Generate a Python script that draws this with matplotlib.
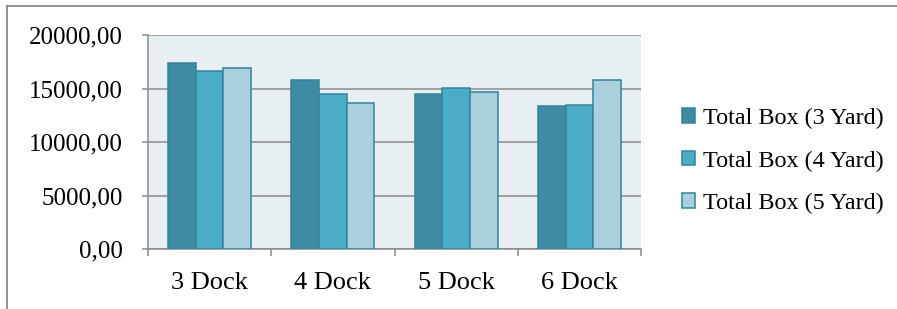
import matplotlib
matplotlib.use("Agg")
import matplotlib.pyplot as plt
import numpy as np
from matplotlib.lines import Line2D
from matplotlib.patches import Patch
from matplotlib.ticker import FuncFormatter, FixedLocator

categories = ["3 Dock", "4 Dock", "5 Dock", "6 Dock"]
series_names = ["Total Box (3 Yard)", "Total Box (4 Yard)", "Total Box (5 Yard)"]
yard3 = [17400, 15830, 14520, 13340]
yard4 = [16640, 14520, 15080, 13470]
yard5 = [16950, 13680, 14650, 15830]
yticks = [0, 5000, 10000, 15000, 20000]

colors = ["#3d8ca3", "#4bacc6", "#aacfdd"]
edge = "#31849b"
grid_c = "#8a8a8a"

plt.rcParams["font.family"] = ["Liberation Serif", "DejaVu Serif"]
plt.rcParams["font.size"] = 17

W, H = 897, 309
fig = plt.figure(figsize=(W / 100, H / 100), dpi=100)
ax = fig.add_axes([148 / W, 1 - 249.3 / H, (641 - 148) / W, (249.3 - 35) / H])
ax.set_facecolor("#e8eff3")

x = np.arange(len(categories))
bw = 0.225
for i, (vals, c, name) in enumerate(zip([yard3, yard4, yard5], colors, series_names)):
    ax.bar(x + (i - 1) * bw, vals, width=bw, color=c, edgecolor=edge, linewidth=1.1,
           label=name, zorder=3)

ax.set_xlim(-0.5, len(categories) - 0.5)
ax.set_ylim(0, 20000)
ax.set_yticks(yticks)
ax.yaxis.set_major_formatter(FuncFormatter(lambda v, p: f"{v:.2f}".replace(".", ",")))
ax.yaxis.grid(True, color=grid_c, linewidth=1.1, zorder=1)
ax.set_axisbelow(True)

ax.set_xticks(x)
ax.set_xticklabels(categories, fontsize=19)
ax.xaxis.set_minor_locator(FixedLocator(np.arange(-0.5, len(categories), 1.0)))
ax.tick_params(axis="x", which="major", length=0, pad=16)
ax.tick_params(axis="x", which="minor", length=5, color=grid_c, width=1.1)
ax.tick_params(axis="y", length=4.5, color=grid_c, width=1.1, pad=13.5, labelsize=18)

for s in ["top", "right"]:
    ax.spines[s].set_visible(False)
for s in ["left", "bottom"]:
    ax.spines[s].set_color(grid_c)
    ax.spines[s].set_linewidth(1.1)

handles = [Patch(facecolor=c, edgecolor=edge, linewidth=1.1) for c in colors]
fig.legend(handles, series_names, loc="center left",
           bbox_to_anchor=(682 / W, 1 - 161 / H), frameon=False,
           prop={"size": 17.4},
           handlelength=0.55, handleheight=0.55, handletextpad=0.3,
           labelspacing=0.88, borderpad=0, borderaxespad=0)

# outer frame (cropped)
fig.add_artist(Line2D([7 / W, 1.0], [1 - 5.5 / H, 1 - 5.5 / H], transform=fig.transFigure,
                      color="#808080", linewidth=1.2))
fig.add_artist(Line2D([7 / W, 7 / W], [0, 1 - 5.5 / H], transform=fig.transFigure,
                      color="#808080", linewidth=1.2))

fig.savefig("out.png", dpi=100)
